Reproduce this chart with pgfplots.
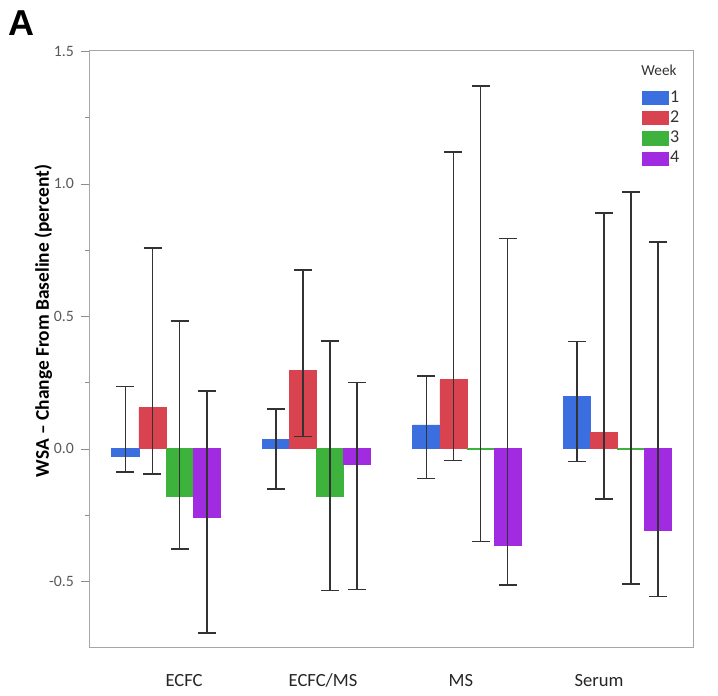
\documentclass[border=0pt]{standalone}
\usepackage{pgfplots}
\pgfplotsset{compat=1.18}
\usepackage{pgfplotstable}
\usepackage{fontspec}
\setmainfont{Carlito}
\newfontfamily\arialfont{Liberation Sans}
\definecolor{wblue}{HTML}{3B6FE0}
\definecolor{wred}{HTML}{D9434F}
\definecolor{wgreen}{HTML}{3DB33D}
\definecolor{wpurple}{HTML}{A02BE0}

% x = group position + offset; ep/em = distance to upper/lower whisker
\pgfplotstableread{
x      y       ep     em
-0.27  -0.030  0.265  0.058
0.73   0.036   0.115  0.189
1.73   0.090   0.186  0.202
2.73   0.197   0.208  0.245
}\wkone
\pgfplotstableread{
x      y       ep     em
-0.09  0.155   0.602  0.250
0.91   0.295   0.381  0.249
1.91   0.260   0.861  0.304
2.91   0.063   0.827  0.252
}\wktwo
\pgfplotstableread{
x      y       ep     em
0.09   -0.179  0.662  0.199
1.09   -0.179  0.586  0.356
2.09   -0.003  1.373  0.347
3.09   -0.002  0.971  0.507
}\wkthree
\pgfplotstableread{
x      y       ep     em
0.27   -0.258  0.475  0.436
1.27   -0.059  0.309  0.472
2.27   -0.363  1.157  0.152
3.27   -0.309  1.090  0.248
}\wkfour

\begin{document}
\begin{tikzpicture}
\path[use as bounding box] (0pt,0pt) rectangle (359pt,348pt);
\node[anchor=base west, inner sep=0pt, font=\arialfont\bfseries\fontsize{18}{20}\selectfont] at (4pt,330pt) {A};
\begin{axis}[
  at={(44.5pt,24.5pt)}, anchor=south west,
  scale only axis, width=302pt, height=298.5pt,
  xmin=-0.512, xmax=3.502, ymin=-0.748, ymax=1.505,
  clip=false,
  axis line style={black!35},
  xtick={0.12,1.043,1.96,2.877},
  xticklabels={ECFC,ECFC/MS,MS,Serum},
  xtick style={draw=none},
  xticklabel style={anchor=base, yshift=-16pt, font=\fontsize{9.3}{11}\selectfont, text=black!85},
  ytick={-0.5,0,0.5,1,1.5},
  minor y tick num=1,
  ytick pos=left,
  tick align=outside,
  major tick length=4pt, minor tick length=2pt,
  ytick style={black!45},
  yticklabel style={font=\fontsize{7.9}{9}\selectfont, text=black!65, /pgf/number format/.cd, fixed, fixed zerofill, precision=1, assume math mode=true},
  ylabel={WSA -- Change From Baseline (percent)},
  ylabel style={at={(axis description cs:-0.0758,0.546)}, anchor=center, font=\bfseries\fontsize{9.7}{11}\selectfont},
  legend style={at={(rel axis cs:0.915,0.9347)}, anchor=north west, draw=none, fill=none, inner sep=0pt,
    nodes={inner sep=0.6pt, font=\fontsize{9}{10}\selectfont, text=black!80}, row sep=1.6pt},
  legend cell align=left,
]
\addplot[ybar, bar width=0.18, bar shift=0pt, fill=wblue, draw=wblue,
  legend image code/.code={\fill[wblue] (0pt,-3.3pt) rectangle (13pt,3.3pt);},
  error bars/.cd, y dir=both, y explicit,
  error bar style={line width=0.85pt, black!80},
  error mark options={line width=0.85pt, black!80, mark size=4.5pt, rotate=90}]
  table[x=x, y=y, y error plus=ep, y error minus=em]{\wkone};
\addlegendentry{1}
\addplot[ybar, bar width=0.18, bar shift=0pt, fill=wred, draw=wred,
  legend image code/.code={\fill[wred] (0pt,-3.3pt) rectangle (13pt,3.3pt);},
  error bars/.cd, y dir=both, y explicit,
  error bar style={line width=0.85pt, black!80},
  error mark options={line width=0.85pt, black!80, mark size=4.5pt, rotate=90}]
  table[x=x, y=y, y error plus=ep, y error minus=em]{\wktwo};
\addlegendentry{2}
\addplot[ybar, bar width=0.18, bar shift=0pt, fill=wgreen, draw=wgreen,
  legend image code/.code={\fill[wgreen] (0pt,-3.3pt) rectangle (13pt,3.3pt);},
  error bars/.cd, y dir=both, y explicit,
  error bar style={line width=0.85pt, black!80},
  error mark options={line width=0.85pt, black!80, mark size=4.5pt, rotate=90}]
  table[x=x, y=y, y error plus=ep, y error minus=em]{\wkthree};
\addlegendentry{3}
\addplot[ybar, bar width=0.18, bar shift=0pt, fill=wpurple, draw=wpurple,
  legend image code/.code={\fill[wpurple] (0pt,-3.3pt) rectangle (13pt,3.3pt);},
  error bars/.cd, y dir=both, y explicit,
  error bar style={line width=0.85pt, black!80},
  error mark options={line width=0.85pt, black!80, mark size=4.5pt, rotate=90}]
  table[x=x, y=y, y error plus=ep, y error minus=em]{\wkfour};
\addlegendentry{4}
\node[anchor=base west, inner sep=0pt, font=\fontsize{7.6}{9}\selectfont, text=black!80] at (rel axis cs:0.914,0.9565) {Week};
\end{axis}
\end{tikzpicture}
\end{document}
